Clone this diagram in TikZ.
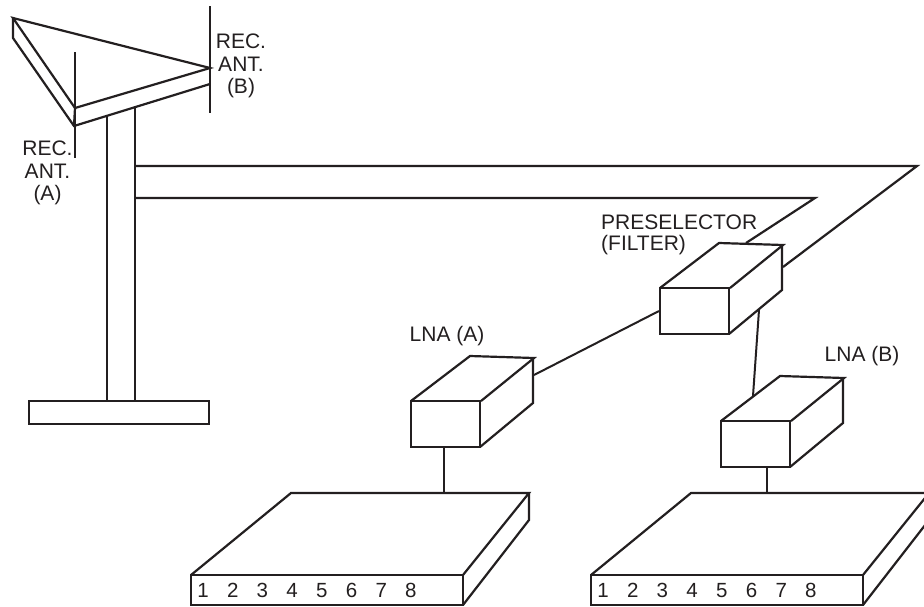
\documentclass[tikz,border=0pt]{standalone}
\usepackage{fontspec}
\setmainfont{Liberation Sans}
\usetikzlibrary{positioning,calc}
\definecolor{cInk}{HTML}{231F20}
\tikzset{
  every node/.style={font=\fontsize{21}{22.5}\selectfont, text=cInk},
  ln/.style={draw=cInk, line width=2.2pt, line join=miter},
  wire/.style={draw=cInk, line width=2pt},
  face/.style={draw=cInk, line width=2.2pt, fill=white, minimum width=69pt, minimum height=46pt, inner sep=0pt, outer sep=0pt},
  lab/.style={align=center, inner sep=0pt},
  llab/.style={align=left, anchor=west, inner sep=0pt},
  num/.style={font=\fontsize{20.5}{21}\selectfont, inner sep=0pt, anchor=base},
}
\begin{document}
\begin{tikzpicture}[x=1pt,y=-1pt]
\clip (0,0) rectangle (924,606);
\fill[white] (0,0) rectangle (924,606);
% ---------------- antenna and mast
\coordinate (tipL) at (13,18);
\coordinate (tipLb) at (13,38);
\coordinate (tipB) at (210,68);
\coordinate (tipBb) at (210,84);
\coordinate (inC) at (75,108);
\coordinate (lowC) at (74,126);
\draw[ln] (tipL) -- (tipB) -- (inC) -- cycle;
\draw[ln] (tipL) -- (tipLb) -- (lowC) -- (tipBb);
\draw[ln] (inC) -- (lowC);
\draw[ln] (75,52) -- (75,158);
\draw[ln] (210,6) -- (210,113);
\node[ln, draw, minimum width=180pt, minimum height=23pt, inner sep=0pt, outer sep=0pt] (base) at (119,412.5) {};
\draw[ln] (107,116) -- (107,401);
\draw[ln] (135,107) -- (135,401);
\node[lab] (recA) at (47.5,173) {REC.\\ANT.\\(A)};
\node[lab] (recB) at (241,66) {REC.\\ANT.\\(B)};

% ---------------- feed lines
\coordinate (feedOut) at (917,166);
\coordinate (feedIn) at (815,198);
\draw[ln] (135,166) -- (feedOut) -- (783,267);
\draw[ln] (135,198) -- (feedIn) -- (746,243);

% ---------------- boxes
\node[face] (pre) at (694.5,311) {};
\node[face] (lnaA) at (445.5,424) {};
\node[face] (lnaB) at (755.5,444) {};
\foreach \n in {pre,lnaA,lnaB}{
  \draw[ln] (\n.north west) -- ++(59,-45) -- ++(64,2) -- ++(-53,43);
  \draw[ln] (\n.south east) -- ++(53,-44) -- ++(0,-44);
}
\node[llab] (lPre) at (601,222) {PRESELECTOR};
\node[llab] (lFil) at (601,245) {(FILTER)};
\node[lab] (lA) at (447,336) {LNA (A)};
\node[lab] (lB) at (862,356) {LNA (B)};

% ---------------- receivers
\foreach \n/\x in {rxA/191,rxB/591}{
  \node[face, minimum width=272pt, minimum height=30pt, anchor=north west] (\n) at (\x,575) {};
  \draw[ln] (\n.north west) -- ++(100,-82) -- ++(238,0) -- ++(-66,82);
  \draw[ln] (\n.south east) -- ++(66,-85) -- ++(0,-27);
  \foreach \d [count=\i from 0] in {1,...,8}{
    \node[num] (\n d\d) at ($(\n.north west)+(12+29.7*\i,22)$) {\d};
  }
}

% ---------------- wires between units
\coordinate (wA) at (534,375);
\coordinate (wP) at (659,311);
\coordinate (wQ) at (759,310);
\coordinate (wB) at (753,396);
\coordinate (rxAtop) at (444,493);
\coordinate (rxBtop) at (767,493);
\draw[wire] (wA) -- (wP);
\draw[wire] (wQ) -- (wB);
\draw[wire] (lnaA.south -| rxAtop) -- (rxAtop);
\draw[wire] (lnaB.south -| rxBtop) -- (rxBtop);
\end{tikzpicture}
\end{document}
